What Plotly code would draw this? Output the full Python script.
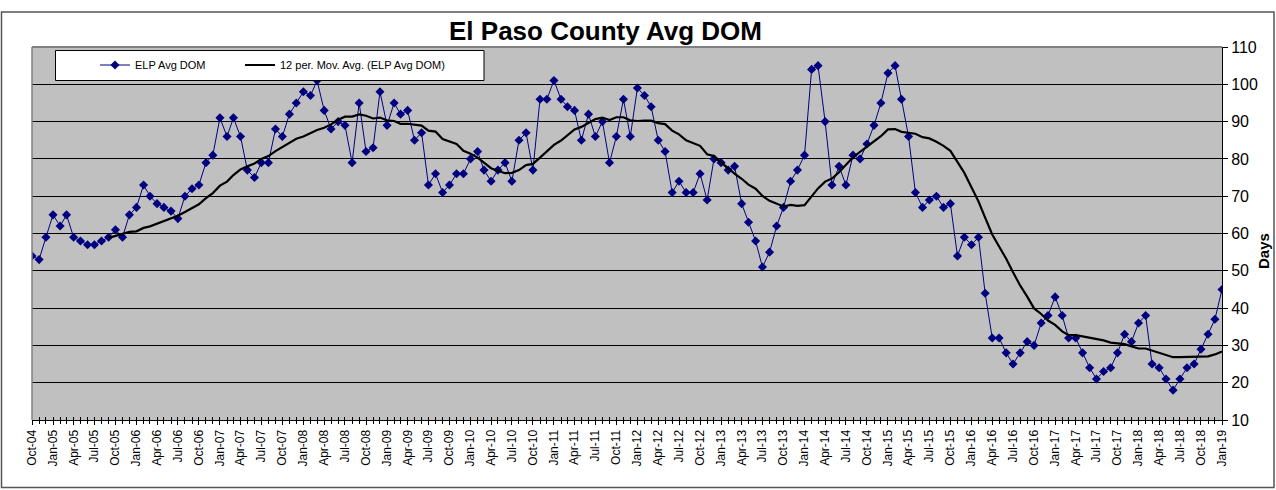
import pandas as pd
import plotly.graph_objects as go

# ---------------- data ----------------
START_MONTH = "2004-10-01"          # first category (Oct-04), monthly through Jan-19
N_MONTHS = 172
TITLE = "El Paso County Avg DOM"
SERIES_NAME = "ELP Avg DOM"
MA_NAME = "12 per. Mov. Avg. (ELP Avg DOM)"
MA_PERIOD = 12
Y_TITLE = "Days"
Y_RANGE = [10, 110]

avg_dom = [
    # Oct-04 .. Mar-07
    54, 53, 59, 65, 62, 65, 59, 58, 57, 57, 58, 59, 61, 59, 65, 67, 73, 70, 68, 67,
    66, 64, 70, 72, 73, 79, 81, 91, 86, 91,
    # Apr-07 .. Jun-09
    86, 77, 75, 79, 79, 88, 86, 92, 95, 98, 97, 101, 93, 88, 90, 89, 79, 95, 82, 83,
    98, 89, 95, 92, 93, 85, 87,
    # Jul-09 .. Jan-12
    73, 76, 71, 73, 76, 76, 80, 82, 77, 74, 77, 79, 74, 85, 87, 77, 96, 96, 101, 96,
    94, 93, 85, 92, 86, 90, 79, 86, 96, 86, 99,
    # Feb-12 .. May-14
    97, 94, 85, 82, 71, 74, 71, 71, 76, 69, 80, 79, 77, 78, 68, 63, 58, 51, 55, 62,
    67, 74, 77, 81, 104, 105, 90, 73,
    # Jun-14 .. Oct-16
    78, 73, 81, 80, 84, 89, 95, 103, 105, 96, 86, 71, 67, 69, 70, 67, 68, 54, 59, 57,
    59, 44, 32, 32, 28, 25, 28, 31, 30,
    # Nov-16 .. Jan-19
    36, 38, 43, 38, 32, 32, 28, 24, 21, 23, 24, 28, 33, 31, 36, 38, 25, 24, 21, 18,
    21, 24, 25, 29, 33, 37, 45,
]

months = pd.date_range(START_MONTH, periods=N_MONTHS, freq="MS")
# Excel-style trailing 12-period moving average trendline of the series
moving_avg = pd.Series(avg_dom, dtype=float).rolling(MA_PERIOD).mean()

# ---------------- geometry helpers (pixel -> paper) ----------------
W, H = 1276, 490
L, R, T, B = 32, 54, 47, 70
PW, PH = W - L - R, H - T - B


def px(x):
    return (x - L) / PW


def py(y):
    return (H - B - y) / PH


FONT = "Arial, Liberation Sans, sans-serif"

fig = go.Figure()
fig.add_trace(go.Scatter(
    x=months, y=avg_dom, name=SERIES_NAME, mode="lines+markers",
    line=dict(color="#000080", width=1),
    marker=dict(symbol="diamond", size=7, color="#000080"),
    legend="legend",
))
fig.add_trace(go.Scatter(
    x=months, y=moving_avg, name=MA_NAME, mode="lines",
    line=dict(color="black", width=2.2),
    legend="legend2",
))

legend_common = dict(
    orientation="h", xanchor="left", yanchor="middle",
    bgcolor="rgba(0,0,0,0)", borderwidth=0, font=dict(size=11, family=FONT),
    itemwidth=30,
)

fig.update_layout(
    width=W, height=H,
    margin=dict(l=L, r=R, t=T, b=B, autoexpand=False),
    paper_bgcolor="white", plot_bgcolor="#C0C0C0",
    font=dict(family=FONT, color="black"),
    showlegend=True,
    legend=dict(x=px(95), y=py(65), **legend_common),
    legend2=dict(x=px(240), y=py(65), **legend_common),
    xaxis=dict(
        type="date", range=[months[0], months[-1]],
        tick0=START_MONTH, dtick="M3", tickformat="%b-%y", tickangle=-90,
        ticks="outside", ticklen=4, tickcolor="black", tickwidth=1,
        showline=True, linecolor="black", linewidth=1,
        showgrid=False, zeroline=False, tickfont=dict(size=12, family=FONT),
        minor=dict(dtick="M1", ticks="outside", ticklen=3, tickcolor="black", showgrid=False),
    ),
    xaxis2=dict(
        type="date", range=[months[0], months[-1]], overlaying="x", anchor="y",
        side="bottom", tick0=START_MONTH, dtick="M1", ticks="inside", ticklen=3,
        tickcolor="black", showticklabels=False, showline=False, showgrid=False,
        zeroline=False,
    ),
    yaxis=dict(
        side="right", range=Y_RANGE, tick0=10, dtick=10,
        ticks="outside", ticklen=5, tickcolor="black",
        showline=True, linecolor="black", linewidth=1,
        showgrid=True, gridcolor="black", gridwidth=1, zeroline=False,
        tickfont=dict(size=16, family=FONT),
    ),
    hovermode=False,
)

fig.add_trace(go.Scatter(x=[months[0]], y=[None], xaxis="x2", showlegend=False,
                         hoverinfo="skip"))

shapes = [
    # outer chart border
    dict(type="rect", xref="paper", yref="paper", x0=px(1.5), x1=px(1274), y0=py(487.5), y1=py(12),
         line=dict(color="#555555", width=1.5), fillcolor="rgba(0,0,0,0)", layer="above"),
    # plot area left and top borders
    dict(type="line", xref="paper", yref="paper", x0=0, x1=0, y0=0, y1=1,
         line=dict(color="#808080", width=1.5), layer="above"),
    dict(type="line", xref="paper", yref="paper", x0=0, x1=1, y0=1, y1=1,
         line=dict(color="#808080", width=2), layer="above"),
    # legend box
    dict(type="rect", xref="paper", yref="paper", x0=px(55.5), x1=px(484), y0=py(80.5), y1=py(50.5),
         line=dict(color="black", width=1), fillcolor="white", layer="above"),
]
fig.update_layout(shapes=shapes)

fig.add_annotation(text=f"<b>{TITLE}</b>", xref="paper", yref="paper", x=px(605), y=py(31),
                   xanchor="center", yanchor="middle", showarrow=False,
                   font=dict(size=26, family=FONT, color="black"))
fig.add_annotation(text=f"<b>{Y_TITLE}</b>", xref="paper", yref="paper", x=px(1264), y=py(251),
                   xanchor="center", yanchor="middle", showarrow=False, textangle=-90,
                   font=dict(size=15, family=FONT, color="black"))

fig.write_html("out.html", config={"displayModeBar": False},
               post_script="document.body.style.margin='0';")
